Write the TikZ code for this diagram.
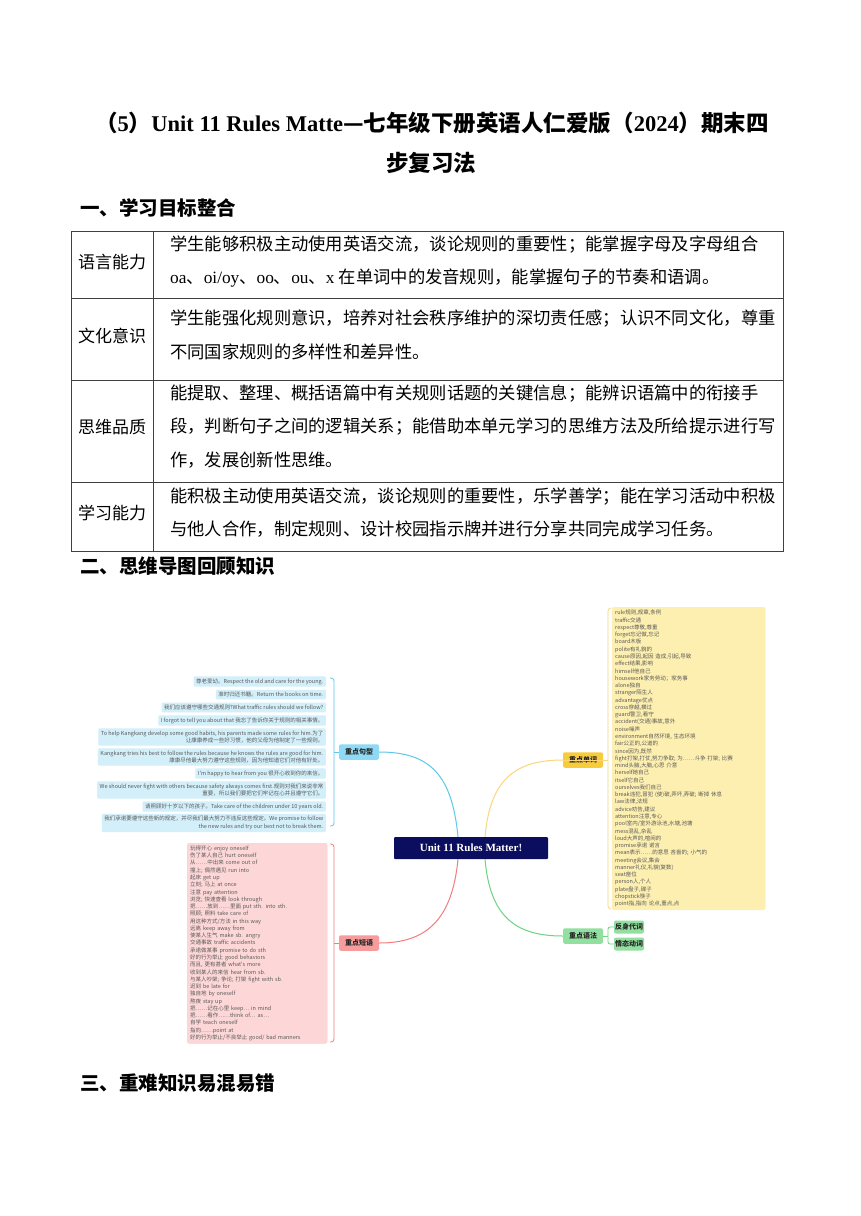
\documentclass[tikz,border=0pt]{standalone}
\usepackage{fontspec}
\setmainfont{Liberation Serif}
\newfontfamily\cjk{Noto Sans CJK SC}
\newcommand{\zh}[1]{{\cjk #1}}
\XeTeXlinebreaklocale "zh"
\XeTeXlinebreakskip = 0pt plus 1pt minus 1pt
\newcommand{\fullline}[1]{\hbox to 606pt{#1}}

\definecolor{rootnavy}{HTML}{0B0D5E}
\definecolor{skyline}{HTML}{5CC9EC}
\definecolor{skyfill}{HTML}{D3EFFA}
\definecolor{skytag}{HTML}{8ED9F4}
\definecolor{roseline}{HTML}{F47C7C}
\definecolor{rosefill}{HTML}{FDD7D7}
\definecolor{rosetag}{HTML}{F79C9C}
\definecolor{sunline}{HTML}{FAD77C}
\definecolor{sunfill}{HTML}{FDEFB0}
\definecolor{suntag}{HTML}{F8CB3A}
\definecolor{leafline}{HTML}{6BD57F}
\definecolor{leaftag}{HTML}{92E0A0}
\definecolor{mapgrey}{HTML}{5A5A5A}
\definecolor{rulegrey}{HTML}{404040}

\begin{document}
\begin{tikzpicture}[x=1pt, y=-1pt,
    heading/.style={anchor=west, inner sep=0pt, font=\cjk\bfseries\fontsize{19.5}{22}\selectfont},
    rowlabel/.style={inner sep=0pt, font=\cjk\fontsize{17}{20}\selectfont},
    rowtext/.style={anchor=west, inner sep=0pt, font=\fontsize{17.3}{20}\selectfont},
    tag/.style={rounded corners=2pt, minimum width=40pt, minimum height=15.5pt, inner sep=0pt, text=black!85, font=\cjk\bfseries\fontsize{7}{8}\selectfont},
    sentitem/.style={anchor=east, fill=skyfill, rounded corners=1pt, inner xsep=2.5pt, inner ysep=2.2pt, align=right, text=mapgrey, font=\cjk\fontsize{5.5}{7.8}\selectfont},
    listbox/.style={anchor=north west, rounded corners=2pt, inner xsep=3pt, align=left, text=mapgrey, font=\cjk\fontsize{5.5}{7.27}\selectfont},
    branch/.style={line width=1pt},
    bracket/.style={line width=0.8pt, rounded corners=3pt}
]
    \useasboundingbox[fill=white] (0,0) rectangle (860,1216);

    % --- Title ---
    \node[font=\bfseries\fontsize{22.5}{27}\selectfont, inner sep=0pt] (title1) at (432,123)
        {\zh{（}5\zh{）}Unit 11 Rules Matte\zh{—七年级下册英语人仁爱版（}2024\zh{）期末四}};
    \node[font=\cjk\bfseries\fontsize{22.5}{27}\selectfont, inner sep=0pt] (title2) at (431,163) {步复习法};

    % --- Section 1: table ---
    \node[heading] (head1) at (80,208) {一、学习目标整合};

    \draw[rulegrey, line width=0.8pt] (71,231) rectangle (783,551);
    \draw[rulegrey, line width=0.8pt] (153,231) -- (153,551);
    \draw[rulegrey, line width=0.8pt] (71,298) -- (783,298);
    \draw[rulegrey, line width=0.8pt] (71,380) -- (783,380);
    \draw[rulegrey, line width=0.8pt] (71,482) -- (783,482);

    \node[rowlabel] (lang) at (112,262) {语言能力};
    \node[rowtext] (lang1) at (170,245) {\fullline{\zh{学生能够积极主动使用英语交流，谈论规则的重要性；能掌握字母及字母组合}}};
    \node[rowtext] (lang2) at (170,278) {oa\zh{、}oi/oy\zh{、}oo\zh{、}ou\zh{、}x \zh{在单词中的发音规则，能掌握句子的节奏和语调。}};

    \node[rowlabel] (cult) at (112,336) {文化意识};
    \node[rowtext] (cult1) at (170,319) {\fullline{\zh{学生能强化规则意识，培养对社会秩序维护的深切责任感；认识不同文化，尊重}}};
    \node[rowtext] (cult2) at (170,352) {\zh{不同国家规则的多样性和差异性。}};

    \node[rowlabel] (think) at (112,427) {思维品质};
    \node[rowtext] (think1) at (170,394) {\fullline{\zh{能提取、整理、概括语篇中有关规则话题的关键信息；能辨识语篇中的衔接手}}};
    \node[rowtext] (think2) at (170,427) {\fullline{\zh{段，判断句子之间的逻辑关系；能借助本单元学习的思维方法及所给提示进行写}}};
    \node[rowtext] (think3) at (170,460) {\zh{作，发展创新性思维。}};

    \node[rowlabel] (learn) at (112,513) {学习能力};
    \node[rowtext] (learn1) at (170,497) {\fullline{\zh{能积极主动使用英语交流，谈论规则的重要性，乐学善学；能在学习活动中积极}}};
    \node[rowtext] (learn2) at (170,529) {\zh{与他人合作，制定规则、设计校园指示牌并进行分享共同完成学习任务。}};

    % --- Section 2: mind map ---
    \node[heading] (head2) at (80,566) {二、思维导图回顾知识};

    % centre topic
    \node[fill=rootnavy, rounded corners=1pt, minimum width=154pt, minimum height=22pt, inner sep=0pt,
          text=white, font=\bfseries\fontsize{11}{13}\selectfont] (root) at (471,848) {Unit 11 Rules Matter!};

    % main branches
    \node[tag, fill=skytag] (sent) at (359,752) {重点句型};
    \node[tag, fill=rosetag] (phr) at (359,943) {重点短语};
    \node[tag, fill=suntag] (word) at (583,760) {重点单词};
    \node[tag, fill=leaftag] (gram) at (583,936) {重点语法};
    \node[tag, fill=leaftag, minimum width=30pt, minimum height=13pt] (refl) at (629,927) {反身代词};
    \node[tag, fill=leaftag, minimum width=30pt, minimum height=13pt] (modal) at (629,944) {情态动词};

    \draw[branch, skyline] ([xshift=-13pt]root.north) .. controls +(-6,-62) and +(51,0) .. (sent.east);
    \draw[branch, roseline] ([xshift=-13pt]root.south) .. controls +(-6,62) and +(46,0) .. (phr.east);
    \draw[branch, sunline] ([xshift=14pt]root.north) .. controls +(5,-57) and +(-48,0) .. (word.west);
    \draw[branch, leafline] ([xshift=14pt]root.south) .. controls +(5,57) and +(-48,0) .. (gram.west);

    % key sentences
    \node[sentitem] (s1) at (326,681.5) {尊老爱幼。Respect the old and care for the young.};
    \node[sentitem] (s2) at (326,694.5) {准时归还书籍。Return the books on time.};
    \node[sentitem] (s3) at (326,707.5) {我们应该遵守哪些交通规则?What traffic rules should we follow?};
    \node[sentitem] (s4) at (326,720.5) {I forgot to tell you about that 我忘了告诉你关于规则的相关事情。};
    \node[sentitem] (s5) at (326,737) {To help Kangkang develop some good habits, his parents made some rules for him.为了\\让康康养成一些好习惯，他的父母为他制定了一些规则。};
    \node[sentitem] (s6) at (326,757) {Kangkang tries his best to follow the rules because he knows the rules are good for him.\\康康尽他最大努力遵守这些规则，因为他知道它们对他有好处。};
    \node[sentitem] (s7) at (326,773.5) {I'm happy to hear from you 很开心收到你的来信。};
    \node[sentitem] (s8) at (326,790) {We should never fight with others because safety always comes first.规则对我们来说非常\\重要，所以我们要把它们牢记在心并且遵守它们。};
    \node[sentitem] (s9) at (326,806.5) {请照顾好十岁以下的孩子。Take care of the children under 10 years old.};
    \node[sentitem] (s10) at (326,823) {我们承诺要遵守这些新的规定，并尽我们最大努力不违反这些规定。We promise to follow\\the new rules and try our best not to break them.};

    \coordinate (sentbr) at (334,752);
    \draw[bracket, skyline] (330,678) -- (334,678) -- (334,826) -- (330,826);
    \draw[bracket, skyline] (sentbr) -- (sent.west);

    % key phrases
    \node[listbox, fill=rosefill, draw=roseline!35, text width=134pt, minimum height=200pt, inner ysep=2.6pt] (phrlist) at (187,843) {%
        玩得开心 enjoy oneself\\
        伤了某人自己 hurt oneself\\
        从……中出来 come out of\\
        撞上; 偶然遇见 run into\\
        起床 get up\\
        立刻; 马上 at once\\
        注意 pay attention\\
        浏览; 快速查看 look through\\
        把……放到……里面 put sth. into sth.\\
        照顾; 照料 take care of\\
        用这种方式/方法 in this way\\
        远离 keep away from\\
        使某人生气 make sb. angry\\
        交通事故 traffic accidents\\
        承诺做某事 promise to do sth\\
        好的行为举止 good behaviors\\
        而且, 更有甚者 what's more\\
        收到某人的来信 hear from sb.\\
        与某人吵架; 争论; 打架 fight with sb.\\
        迟到 be late for\\
        独自地 by oneself\\
        熬夜 stay up\\
        把……记在心里 keep… in mind\\
        把……看作……think of… as…\\
        自学 teach oneself\\
        指向……point at\\
        好的行为举止/不良举止 good/ bad manners};

    \coordinate (phrbr) at (334,943);
    \draw[bracket, roseline] (330,844) -- (334,844) -- (334,1042) -- (330,1042);
    \draw[bracket, roseline] (phrbr) -- (phr.west);

    % key words
    \node[listbox, fill=sunfill, draw=sunline!45, text width=147pt, inner ysep=3pt] (wordlist) at (612,607) {%
        rule规则,规章,条例\\
        traffic交通\\
        respect尊敬,尊重\\
        forget忘记做,忘记\\
        board木板\\
        polite有礼貌的\\
        cause原因,起因 造成,引起,导致\\
        effect结果,影响\\
        himself他自己\\
        housework家务劳动；家务事\\
        alone独自\\
        stranger陌生人\\
        advantage优点\\
        cross穿越,横过\\
        guard警卫,看守\\
        accident(交通)事故,意外\\
        noise噪声\\
        environment自然环境, 生态环境\\
        fair公正的,公道的\\
        since因为,既然\\
        fight打架,打仗,努力争取; 为……斗争 打架; 比赛\\
        mind头脑,大脑,心思 介意\\
        herself她自己\\
        itself它自己\\
        ourselves我们自己\\
        break违犯,冒犯 (使)破,弄坏,弄破; 断掉 休息\\
        law法律,法规\\
        advice劝告,建议\\
        attention注意,专心\\
        pool室内/室外游泳池,水塘,池塘\\
        mess混乱,杂乱\\
        loud大声的,喧闹的\\
        promise承诺 诺言\\
        mean表示……的意思 吝啬的; 小气的\\
        meeting会议,集会\\
        manner礼仪,礼貌(复数)\\
        seat座位\\
        person人,个人\\
        plate盘子,碟子\\
        chopstick筷子\\
        point指,指向 论点,重点,点};

    \coordinate (wordbr) at (608,760);
    \draw[bracket, sunline] (611,608) -- (608,608) -- (608,909) -- (611,909);
    \draw[bracket, sunline] (wordbr) -- (word.west);

    % grammar
    \coordinate (grambr) at (608,936);
    \draw[bracket, leafline, rounded corners=2pt] (refl.west) -- (608,927) -- (608,944) -- (modal.west);
    \draw[bracket, leafline] (gram.east) -- (grambr);

    % --- Section 3 ---
    \node[heading] (head3) at (80,1083) {三、重难知识易混易错};
\end{tikzpicture}
\end{document}
